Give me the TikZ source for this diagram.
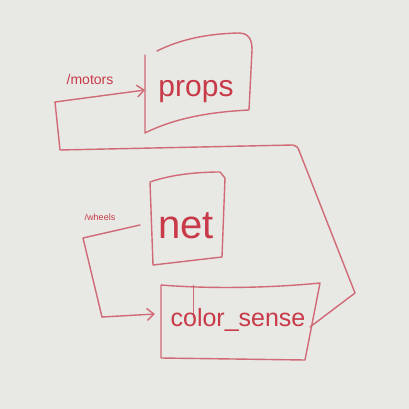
\documentclass[tikz,border=0pt]{standalone}
\usepackage{fontspec}
\setmainfont{Liberation Sans}
\usetikzlibrary{arrows.meta}
\definecolor{board}{HTML}{E8E8E5}
\definecolor{ink}{HTML}{C83A48}
\definecolor{inkl}{HTML}{D06A76}
\tikzset{
  ink/.style={draw=inkl, line width=1.4pt, line join=round, line cap=round},
  lbl/.style={text=ink, inner sep=0pt},
  arr/.style={ink, -{Straight Barb[length=7pt,width=12pt]}}
}
\begin{document}
\begin{tikzpicture}[x=1pt,y=-1pt]
\fill[board] (0,0) rectangle (409,409);
\useasboundingbox (0,0) rectangle (409,409);
% props box
\draw[ink] (145,55) -- (145,133) .. controls (175,118) and (210,112) .. (249,110)
  -- (252,50) .. controls (252,38) and (248,33) .. (238,33)
  .. controls (200,34) and (175,42) .. (157,51);
\node[lbl, font=\fontsize{30}{30}\selectfont] (props) at (196,92) {props};
% net box
\draw[ink] (150,182) -- (153,265) -- (222,257) -- (225,178) -- (220,172) .. controls (195,172) and (170,175) .. (150,182);
\node[lbl, font=\fontsize{40}{40}\selectfont] (net) at (186,226) {net};
% color_sense box
\draw[ink] (161,285) -- (161,358) -- (305,360) -- (320,283) .. controls (270,288) and (210,289) .. (161,285);
\draw[draw=inkl, line width=1pt] (193,285) -- (193,318);
\node[lbl, font=\fontsize{25}{25}\selectfont] (cs) at (238,320) {color\_sense};
% labels
\node[lbl, font=\fontsize{14}{14}\selectfont] (motors) at (90,79) {/motors};
\node[lbl, font=\fontsize{9}{9}\selectfont] (wheels) at (100,217) {/wheels};
% connectors
\coordinate (m1) at (55,102);
\coordinate (m2) at (60,150);
\coordinate (m3) at (293,145);
\coordinate (m4) at (355,293);
\coordinate (m5) at (310,327);
\coordinate (pin) at (145,90);
\draw[ink] (m5) -- (m4) -- (300,153) .. controls (298,147) and (296,145) .. (m3) -- (m2) -- (m1);
\draw[arr] (m1) -- (pin);
\coordinate (w1) at (140,225);
\coordinate (w2) at (83,238);
\coordinate (w3) at (102,317);
\coordinate (cin) at (155,314);
\draw[ink] (w1) -- (w2) -- (w3);
\draw[arr] (w3) -- (cin);
\end{tikzpicture}
\end{document}
